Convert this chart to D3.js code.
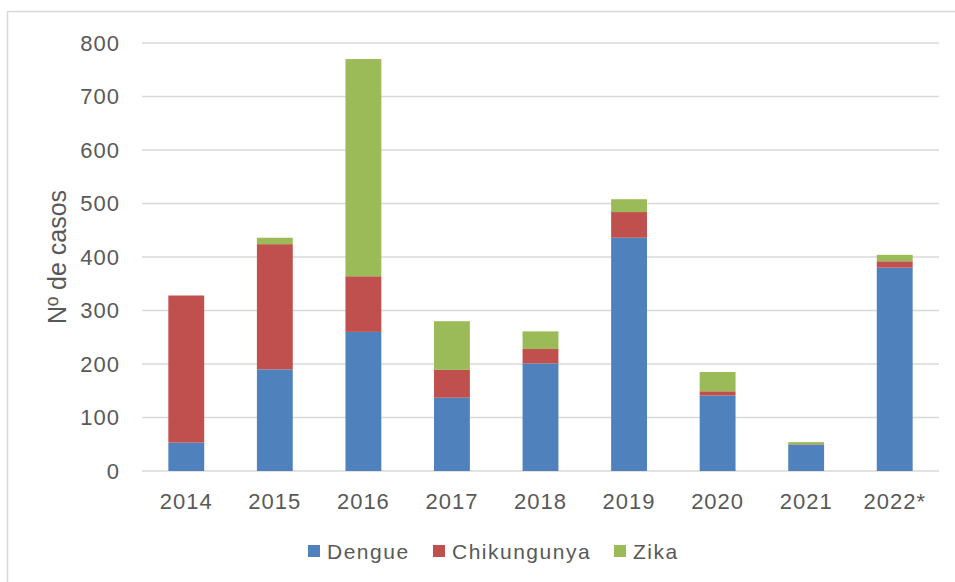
<!DOCTYPE html>
<html>
<head>
<meta charset="utf-8">
<script src="https://cdnjs.cloudflare.com/ajax/libs/d3/7.8.5/d3.min.js"></script>
<style>
  body { margin: 0; background: #fff; }
  text { font-family: "Liberation Sans", Arial, sans-serif; fill: #595959; }
</style>
</head>
<body>
<div id="chart"></div>
<script>
var years = ['2014', '2015', '2016', '2017', '2018', '2019', '2020', '2021', '2022*'];
var dengue = [53, 190, 260, 137, 201, 436, 141, 49, 380];
var chikungunya = [275, 234, 104, 52, 27, 48, 8, 1, 12];
var zika = [0, 12, 406, 91, 33, 24, 36, 4, 12];
var seriesNames = ['Dengue', 'Chikungunya', 'Zika'];
var colors = ['#4F81BD', '#C0504D', '#9BBB59'];
var yTicks = [0, 100, 200, 300, 400, 500, 600, 700, 800];

var width = 955, height = 582;
var margin = {top: 43, right: 16, bottom: 111, left: 142};

var rows = years.map(function(y, i){
	return {year: y, Dengue: dengue[i], Chikungunya: chikungunya[i], Zika: zika[i]};
});
var stacked = d3.stack().keys(seriesNames)(rows);

var svg = d3.select('#chart').append('svg')
	.attr('width', width)
	.attr('height', height);

// outer frame
svg.append('rect')
	.attr('x', 7.5).attr('y', 11.5)
	.attr('width', width + 10).attr('height', height + 10)
	.attr('fill', 'none')
	.attr('stroke', '#D9D9D9')
	.attr('stroke-width', 1.5);

var g = svg.append('g').attr('transform', 'translate(' + margin.left + ',' + margin.top + ')');
var w = width - margin.left - margin.right;
var h = height - margin.top - margin.bottom;

var x = d3.scaleBand().domain(years).range([0, w]).paddingInner(0.595).paddingOuter(0.2975);
var y = d3.scaleLinear().domain([0, 800]).range([h, 0]);

// gridlines
g.append('g')
	.selectAll('line')
	.data(yTicks)
	.join('line')
	.attr('x1', 0).attr('x2', w)
	.attr('y1', function(d){ return y(d); })
	.attr('y2', function(d){ return y(d); })
	.attr('stroke', '#D9D9D9')
	.attr('stroke-width', 1.6);

// y tick labels
g.append('g')
	.selectAll('text')
	.data(yTicks)
	.join('text')
	.attr('x', -22)
	.attr('y', function(d){ return y(d); })
	.attr('dy', '0.35em')
	.attr('text-anchor', 'end')
	.style('font-size', '22px')
	.style('letter-spacing', '1px')
	.text(function(d){ return d; });

// x labels
g.append('g')
	.selectAll('text')
	.data(years)
	.join('text')
	.attr('x', function(d){ return x(d) + x.bandwidth() / 2; })
	.attr('y', h + 38)
	.attr('text-anchor', 'middle')
	.style('font-size', '22px')
	.style('letter-spacing', '1px')
	.text(function(d){ return d; });

// bars
g.append('g')
	.selectAll('g')
	.data(stacked)
	.join('g')
	.attr('fill', function(d, i){ return colors[i]; })
	.selectAll('rect')
	.data(function(d){ return d; })
	.join('rect')
	.attr('x', function(d){ return x(d.data.year); })
	.attr('y', function(d){ return y(d[1]); })
	.attr('width', x.bandwidth())
	.attr('height', function(d){ return y(d[0]) - y(d[1]); });

// y axis title
svg.append('text')
	.attr('transform', 'translate(66,257) rotate(-90)')
	.attr('text-anchor', 'middle')
	.style('font-size', '25px')
	.text('Nº de casos');

// legend
var legendX = [308, 433, 614];
var legend = svg.append('g')
	.selectAll('g')
	.data(seriesNames)
	.join('g')
	.attr('transform', function(d, i){ return 'translate(' + legendX[i] + ',545)'; });
legend.append('rect')
	.attr('width', 12).attr('height', 12)
	.attr('fill', function(d, i){ return colors[i]; });
legend.append('text')
	.attr('x', 19)
	.attr('y', 14)
	.style('font-size', '21px')
	.style('letter-spacing', '1.5px')
	.text(function(d){ return d; });
</script>
</body>
</html>
